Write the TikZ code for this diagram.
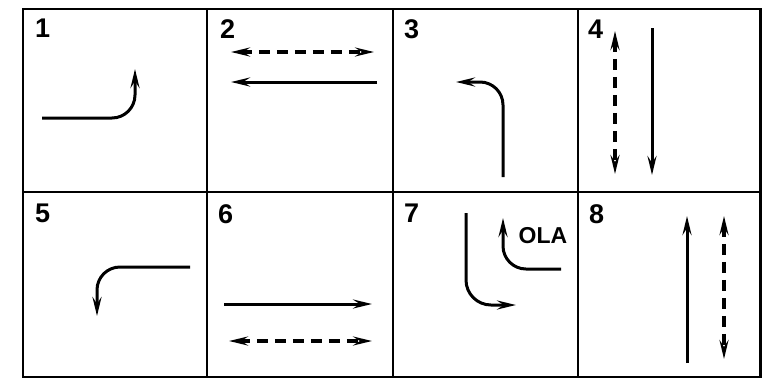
\documentclass[tikz,border=0pt]{standalone}
\usepackage{fontspec}
\setmainfont{Liberation Sans}
\usetikzlibrary{arrows.meta}
\tikzset{
  grid/.style={line width=2.2pt, line cap=rect},
  tip/.style={Stealth[length=19pt,width=9pt,inset=7pt]},
  arr/.style={line width=3pt, -{Stealth[length=19pt,width=9pt,inset=7pt]}},
  darr/.style={line width=3.4pt, dash pattern=on 11pt off 7pt,
     {Stealth[length=19pt,width=9pt,inset=7pt]}-{Stealth[length=19pt,width=9pt,inset=7pt]}},
  num/.style={anchor=north west, inner sep=0pt, font=\fontsize{27}{27}\selectfont\bfseries},
  lbl/.style={inner sep=0pt, font=\fontsize{23}{23}\selectfont\bfseries}
}
\begin{document}
\begin{tikzpicture}[x=1pt,y=-1pt]
\useasboundingbox (0,0) rectangle (762,384);
% grid
\draw[grid] (23,9) rectangle (760.5,377);
\draw[grid] (23,192) -- (760.5,192);
\foreach \gx in {207,393,578} \draw[grid] (\gx,9) -- (\gx,377);
% numbers
\node[num] (n1) at (35,19) {1};
\node[num] (n2) at (220,19) {2};
\node[num] (n3) at (404,19) {3};
\node[num] (n4) at (588,20) {4};
\node[num] (n5) at (35,204) {5};
\node[num] (n6) at (218,204) {6};
\node[num] (n7) at (404,204) {7};
\node[num] (n8) at (589,204) {8};
% cell 1
\coordinate (a1s) at (42,118); \coordinate (a1e) at (135,69);
\draw[arr, rounded corners=23pt] (a1s) -| (a1e);
% cell 2
\coordinate (b1s) at (231,52); \coordinate (b1e) at (374,52);
\draw[darr] (b1s) -- (b1e);
\coordinate (b2s) at (377,82); \coordinate (b2e) at (231,82);
\draw[arr] (b2s) -- (b2e);
% cell 3
\coordinate (c1s) at (503,177); \coordinate (c1e) at (456,82);
\draw[arr, rounded corners=23pt] (c1s) |- (c1e);
% cell 4
\coordinate (d1s) at (615,31); \coordinate (d1e) at (615,174);
\draw[darr] (d1s) -- (d1e);
\coordinate (d2s) at (652,28); \coordinate (d2e) at (652,175);
\draw[arr] (d2s) -- (d2e);
% cell 5
\coordinate (e1s) at (190,267); \coordinate (e1e) at (97,316);
\draw[arr, rounded corners=23pt] (e1s) -| (e1e);
% cell 6
\coordinate (f1s) at (224,304); \coordinate (f1e) at (372,304);
\draw[arr] (f1s) -- (f1e);
\coordinate (f2s) at (229,341); \coordinate (f2e) at (372,341);
\draw[darr] (f2s) -- (f2e);
% cell 7
\coordinate (g1s) at (466,213); \coordinate (g1e) at (516,305);
\draw[arr, rounded corners=25pt] (g1s) |- (g1e);
\coordinate (g2s) at (561,269); \coordinate (g2e) at (503,218);
\draw[arr, rounded corners=23pt] (g2s) -| (g2e);
\node[lbl] (ola) at (543,236) {OLA};
% cell 8
\coordinate (h1s) at (687,363); \coordinate (h1e) at (687,216);
\draw[arr] (h1s) -- (h1e);
\coordinate (h2s) at (724,216); \coordinate (h2e) at (724,359);
\draw[darr] (h2s) -- (h2e);
\end{tikzpicture}
\end{document}
